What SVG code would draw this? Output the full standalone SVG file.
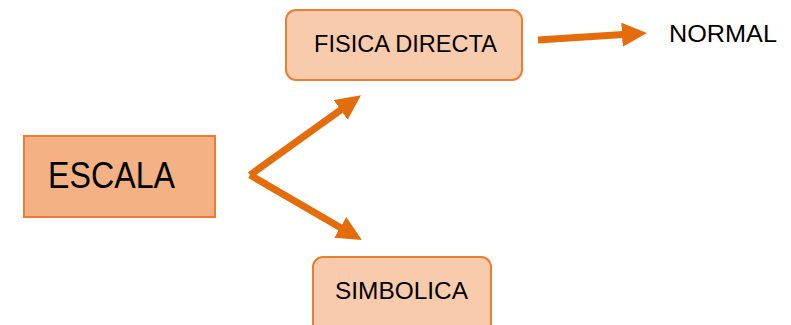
<svg xmlns="http://www.w3.org/2000/svg" width="791" height="325" viewBox="0 0 791 325">
<style>
.box{stroke:#ED7D31;stroke-width:2}
.t{font-family:"Liberation Sans",Arial,sans-serif;fill:#000}
.c{fill:none;stroke:#E46C0A;stroke-width:7}
</style>
<defs>
<marker id="ah" markerUnits="userSpaceOnUse" markerWidth="28" markerHeight="26" refX="1" refY="12" orient="auto" viewBox="0 0 28 26">
<path d="M0,0 L25,12 L0,24 z" fill="#E46C0A"/>
</marker>
</defs>
<rect width="791" height="325" fill="#fff"/>
<g id="escala">
<rect class="box" x="24" y="136" width="191" height="81" fill="#F4B183"/>
<text class="t" x="48" y="188" font-size="36" textLength="127" lengthAdjust="spacingAndGlyphs">ESCALA</text>
</g>
<g id="fisica-directa">
<rect class="box" x="286" y="10" width="236" height="70" rx="10" fill="#F8CBAD"/>
<text class="t" x="314" y="52" font-size="24" textLength="183" lengthAdjust="spacingAndGlyphs">FISICA DIRECTA</text>
</g>
<g id="normal">
<text class="t" x="669" y="42" font-size="24" textLength="108" lengthAdjust="spacingAndGlyphs">NORMAL</text>
</g>
<g id="simbolica">
<rect class="box" x="313" y="257" width="178" height="80" rx="10" fill="#F8CBAD"/>
<text class="t" x="335" y="299" font-size="24" textLength="133" lengthAdjust="spacingAndGlyphs">SIMBOLICA</text>
</g>
<g id="connectors">
<path class="c" d="M250,175 L341.5,109.3" marker-end="url(#ah)"/>
<path class="c" d="M250,175 L341.1,228" marker-end="url(#ah)"/>
<path class="c" d="M538,40 L623,34.6" marker-end="url(#ah)"/>
</g>
</svg>
